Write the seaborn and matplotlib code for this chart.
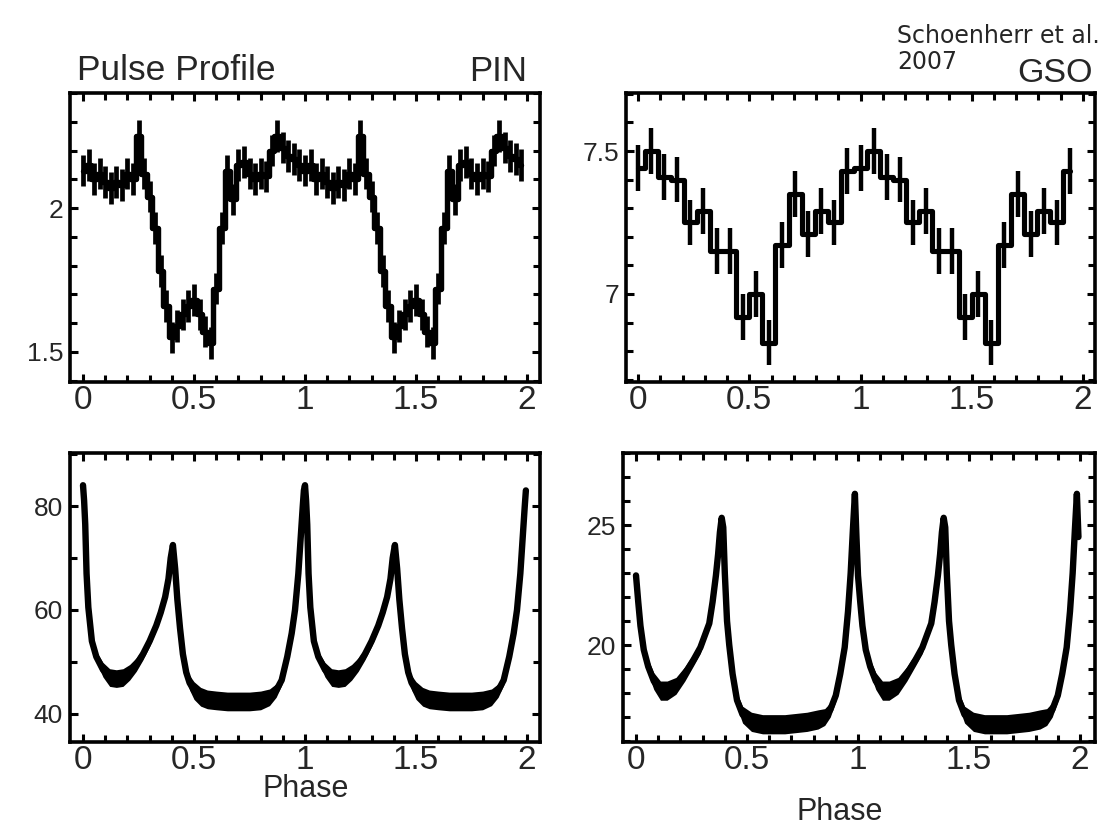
import numpy as np
import matplotlib
matplotlib.use("Agg")
import matplotlib.pyplot as plt
import seaborn as sns
from matplotlib.ticker import MultipleLocator

# ---- data (one pulse cycle each, shown twice) ----
# PIN pulse profile, 40 phase bins
PIN_RATE = [2.13, 2.15, 2.10, 2.12, 2.09, 2.07, 2.09, 2.08, 2.12, 2.10,
            2.25, 2.12, 2.04, 1.93, 1.78, 1.66, 1.55, 1.59, 1.63, 1.66,
            1.68, 1.63, 1.57, 1.53, 1.72, 1.93, 2.13, 2.03, 2.15, 2.16,
            2.12, 2.10, 2.12, 2.11, 2.20, 2.25, 2.21, 2.18, 2.17, 2.15]
PIN_ERR = 0.055

# GSO pulse profile, 17 phase bins
GSO_RATE = [7.44, 7.50, 7.41, 7.40, 7.25, 7.29, 7.15, 7.15, 6.92, 7.00,
            6.83, 7.17, 7.35, 7.21, 7.29, 7.25, 7.43]
GSO_ERR = 0.08

# high resolution profiles (lower panels)
PIN_HR_PHASE = [0.0, 0.005, 0.01, 0.016, 0.024, 0.04, 0.06, 0.09, 0.12, 0.15,
                0.18, 0.21, 0.24, 0.27, 0.30, 0.33, 0.35, 0.37, 0.385, 0.395,
                0.405, 0.415, 0.425, 0.437, 0.45, 0.465, 0.48, 0.50, 0.53, 0.56,
                0.60, 0.65, 0.70, 0.75, 0.80, 0.84, 0.87, 0.895, 0.92, 0.94,
                0.955, 0.97, 0.98, 0.99, 0.995]
PIN_HR_RATE = [84, 81, 76.5, 67, 60.5, 54, 51, 48.5, 47, 46.8,
               47, 48, 49.5, 51.5, 54, 57, 59.5, 62.5, 66, 70,
               72.5, 68, 62, 56.5, 51.5, 48, 46, 44.5, 43.3, 42.8,
               42.6, 42.4, 42.4, 42.4, 42.6, 43.2, 44.5, 46.5, 51, 55.5,
               60, 67, 73.5, 80, 83]
PIN_HR_SPREAD = [0.3, 0.3, 0.3, 0.4, 0.5, 0.8, 1.0, 1.4, 1.7, 1.7,
                 1.7, 1.5, 1.3, 1.1, 1.0, 0.9, 0.8, 0.6, 0.4, 0.3,
                 0.3, 0.3, 0.4, 0.6, 0.8, 1.0, 1.4, 1.7, 1.8, 1.8,
                 1.8, 1.8, 1.8, 1.8, 1.8, 1.6, 1.3, 1.0, 0.8, 0.6,
                 0.4, 0.3, 0.3, 0.3, 0.3]

GSO_HR_PHASE = [0.0, 0.01, 0.02, 0.035, 0.055, 0.08, 0.11, 0.14, 0.18, 0.22,
                0.26, 0.29, 0.31, 0.33, 0.345, 0.36, 0.37, 0.378, 0.386, 0.393,
                0.40, 0.41, 0.42, 0.435, 0.455, 0.48, 0.52, 0.57, 0.62, 0.67,
                0.72, 0.77, 0.82, 0.85, 0.875, 0.90, 0.92, 0.94, 0.955, 0.967,
                0.977, 0.986, 0.993]
GSO_HR_RATE = [22.9, 21.8, 20.8, 19.8, 19.1, 18.5, 18.1, 18.1, 18.3, 18.8,
               19.4, 19.9, 20.4, 20.9, 21.8, 22.9, 23.8, 24.7, 25.3, 24.9,
               23.0, 21.0, 20.0, 18.8, 17.7, 17.1, 16.8, 16.7, 16.7, 16.7,
               16.75, 16.8, 16.9, 17.0, 17.3, 17.9, 18.8, 19.9, 21.4, 23.0,
               24.8, 26.3, 24.5]
GSO_HR_SPREAD = [0.15, 0.15, 0.2, 0.25, 0.3, 0.35, 0.4, 0.4, 0.35, 0.3,
                 0.25, 0.25, 0.2, 0.15, 0.15, 0.15, 0.15, 0.1, 0.1, 0.1,
                 0.15, 0.15, 0.2, 0.25, 0.3, 0.35, 0.4, 0.4, 0.4, 0.4,
                 0.4, 0.4, 0.4, 0.35, 0.3, 0.25, 0.2, 0.15, 0.15, 0.1,
                 0.1, 0.1, 0.1]

FONT = "Liberation Sans"


def two_cycles(values):
    return np.tile(np.asarray(values, dtype=float), 2)


def style_axes(ax, xlim, ylim, ymajor, yminor):
    ax.set_xlim(*xlim)
    ax.set_ylim(*ylim)
    ax.xaxis.set_major_locator(MultipleLocator(0.5))
    ax.xaxis.set_minor_locator(MultipleLocator(0.1))
    ax.yaxis.set_major_locator(MultipleLocator(ymajor))
    ax.yaxis.set_minor_locator(MultipleLocator(yminor))
    ax.xaxis.set_major_formatter(plt.FuncFormatter(lambda v, p: f"{v:g}"))
    ax.yaxis.set_major_formatter(plt.FuncFormatter(lambda v, p: f"{v:g}"))
    ax.tick_params(which="both", direction="in", top=True, right=True,
                   width=2.2, color="black")
    ax.tick_params(which="major", length=6)
    ax.tick_params(which="minor", length=5)
    ax.tick_params(axis="x", labelsize=24, pad=2)
    ax.tick_params(axis="y", labelsize=19, pad=5)
    for lab in ax.get_xticklabels() + ax.get_yticklabels():
        lab.set_fontfamily(FONT)
    for sp in ax.spines.values():
        sp.set_linewidth(2.6)
        sp.set_color("black")
    ax.set_xlabel("")
    ax.set_ylabel("")


def step_panel(ax, rate, err, lw):
    nbin = len(rate)
    phase = np.arange(2 * nbin) / nbin
    y = two_cycles(rate)
    ax.errorbar(phase, y, yerr=err, fmt="none", ecolor="black",
                elinewidth=lw, capsize=0)
    sns.lineplot(x=phase, y=y, ax=ax, color="black", linewidth=lw + 0.5,
                 drawstyle="steps-mid", estimator=None)


def smooth_panel(ax, phase, rate, spread):
    ph = np.asarray(phase, dtype=float)
    x = np.concatenate([ph, ph + 1])
    y = two_cycles(rate)
    s = two_cycles(spread)
    ax.fill_between(x, y - s, y + s, color="black", linewidth=0)
    sns.lineplot(x=x, y=y, ax=ax, color="black", linewidth=4.6,
                 estimator=None)


def main():
    sns.set_style("ticks")
    plt.rcParams["font.family"] = [FONT, "DejaVu Sans"]

    fig = plt.figure(figsize=(11.12, 8.31), dpi=100)
    W, H = 1112, 831

    def box(l, t, r, b):
        return [l / W, 1 - b / H, (r - l) / W, (b - t) / H]

    ax_pin = fig.add_axes(box(70, 93, 540, 382))
    ax_gso = fig.add_axes(box(626, 93, 1095, 382))
    ax_pin_hr = fig.add_axes(box(70, 453, 540, 742))
    ax_gso_hr = fig.add_axes(box(623, 453, 1095, 742))

    step_panel(ax_pin, PIN_RATE, PIN_ERR, 3.4)
    style_axes(ax_pin, (-0.0586, 2.0586), (1.395, 2.40), 0.5, 0.1)

    step_panel(ax_gso, GSO_RATE, GSO_ERR, 3.2)
    style_axes(ax_gso, (-0.054, 2.054), (6.692, 7.703), 0.5, 0.1)

    smooth_panel(ax_pin_hr, PIN_HR_PHASE, PIN_HR_RATE, PIN_HR_SPREAD)
    style_axes(ax_pin_hr, (-0.0586, 2.0586), (34.6, 90.2), 20, 10)

    smooth_panel(ax_gso_hr, GSO_HR_PHASE, GSO_HR_RATE, GSO_HR_SPREAD)
    style_axes(ax_gso_hr, (-0.0586, 2.0676), (15.96, 28.0), 5, 1)

    # panel captions
    fig.text(77 / W, 1 - 80 / H, "Pulse Profile", fontsize=25.5,
             family=FONT, ha="left", va="baseline")
    fig.text(527 / W, 1 - 81 / H, "PIN", fontsize=25,
             family=FONT, ha="right", va="baseline")
    fig.text(1093 / W, 1 - 82 / H, "GSO", fontsize=24.5,
             family=FONT, ha="right", va="baseline")
    fig.text(897 / W, 1 - 43 / H, "Schoenherr et al.", fontsize=17,
             family="DejaVu Sans", ha="left", va="baseline")
    fig.text(897 / W, 1 - 69 / H, "2007", fontsize=17,
             family="DejaVu Sans", ha="left", va="baseline")

    fig.text(306 / W, 1 - 797 / H, "Phase", fontsize=22,
             family=FONT, ha="center", va="baseline")
    fig.text(840 / W, 1 - 820 / H, "Phase", fontsize=22,
             family=FONT, ha="center", va="baseline")

    fig.savefig("out.png", dpi=100)


if __name__ == "__main__":
    main()
